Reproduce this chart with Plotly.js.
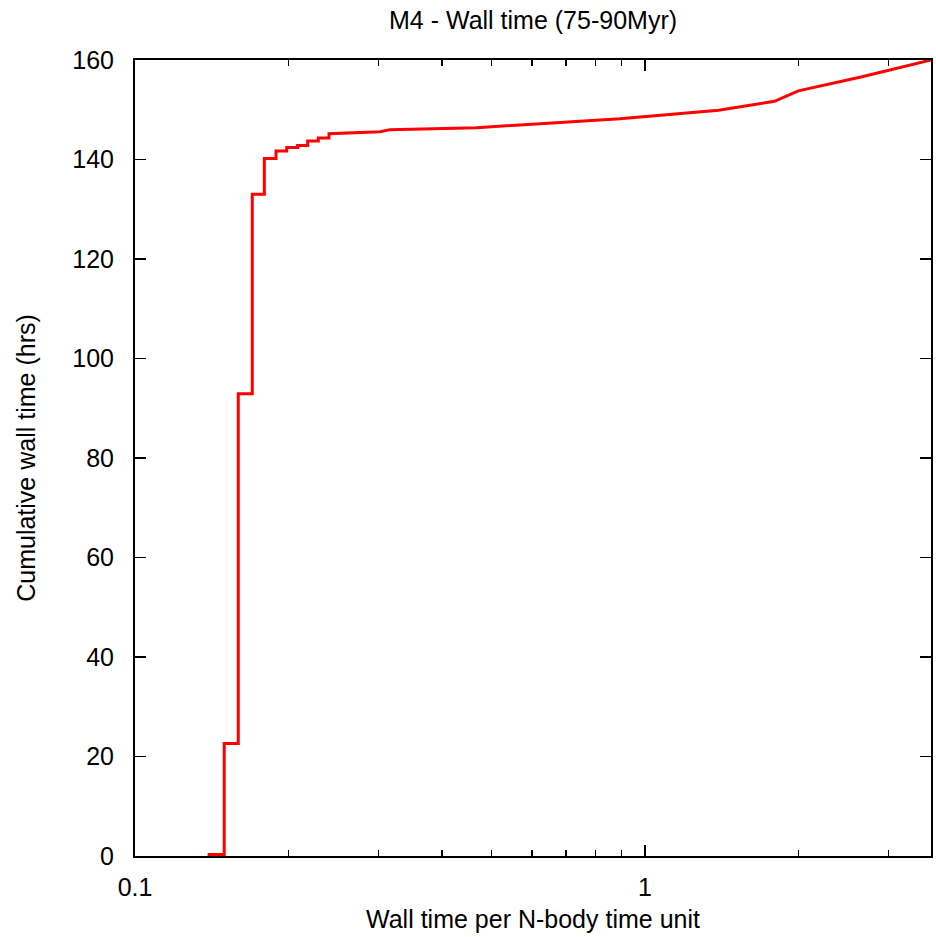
<!DOCTYPE html>
<html>
<head>
<meta charset="utf-8">
<script src="https://cdn.plot.ly/plotly-3.0.1.min.js"></script>
<style>html,body{margin:0;padding:0;background:#fff;}#chart{width:936px;height:937px;}</style>
</head>
<body>
<div id="chart"></div>
<script>
// Wall time per N-body time unit (x) and cumulative wall time in hours (y)
const wallPerUnit = [0.1388, 0.1496, 0.1496, 0.1594, 0.1594, 0.1698, 0.1698, 0.1793, 0.1793, 0.1890, 0.1890, 0.1984, 0.1984, 0.2084, 0.2084, 0.2181, 0.2181, 0.2288, 0.2288, 0.2401, 0.2401, 0.3023, 0.3162, 0.4677, 0.893, 1.394, 1.795, 1.998, 2.652, 3.638];
const cumulativeHrs = [0.3, 0.3, 22.6, 22.6, 92.9, 92.9, 133.0, 133.0, 140.2, 140.2, 141.7, 141.7, 142.4, 142.4, 142.8, 142.8, 143.7, 143.7, 144.3, 144.3, 145.2, 145.6, 146.0, 146.4, 148.2, 149.9, 151.7, 153.8, 156.6, 160.0];
const xMajorTicks = [0.1, 1];
const xMajorLabels = ['0.1', '1'];
const xMinorTicks = [0.2, 0.3, 0.4, 0.5, 0.6, 0.7, 0.8, 0.9, 2, 3];
const yTicks = [0, 20, 40, 60, 80, 100, 120, 140, 160];

const font = {family: 'Liberation Sans, Arial, sans-serif', size: 25, color: '#000'};

Plotly.newPlot('chart', [{
  x: wallPerUnit,
  y: cumulativeHrs,
  type: 'scatter',
  mode: 'lines',
  line: {color: '#ff0000', width: 3},
  hoverinfo: 'skip'
}], {
  width: 936, height: 937,
  margin: {l: 135, r: 5, t: 60, b: 81},
  paper_bgcolor: '#fff', plot_bgcolor: '#fff',
  showlegend: false,
  font: font,
  title: {text: 'M4 - Wall time (75-90Myr)', font: {family: font.family, size: 25, color: '#000'}, x: 0.5695, xanchor: 'center', y: 0.978, yanchor: 'middle'},
  xaxis: {
    type: 'log',
    range: [Math.log10(0.1), Math.log10(3.638)],
    tickmode: 'array', tickvals: xMajorTicks, ticktext: xMajorLabels,
    ticks: 'inside', ticklen: 11, tickwidth: 1.5, tickcolor: '#000',
    minor: {tickmode: 'array', tickvals: xMinorTicks, ticks: 'inside', ticklen: 6, tickwidth: 1.5, tickcolor: '#000'},
    showline: true, linecolor: '#000', linewidth: 2, mirror: 'ticks',
    showgrid: false, zeroline: false,
    ticklabelstandoff: 8,
    tickfont: font,
    title: {text: 'Wall time per N-body time unit', font: font, standoff: 10}
  },
  yaxis: {
    range: [0, 160],
    tickmode: 'array', tickvals: yTicks,
    ticks: 'inside', ticklen: 11, tickwidth: 1.5, tickcolor: '#000',
    showline: true, linecolor: '#000', linewidth: 2, mirror: 'ticks',
    showgrid: false, zeroline: false,
    ticklabelstandoff: 14,
    tickfont: font,
    title: {text: 'Cumulative wall time (hrs)', font: font, standoff: 30}
  }
}, {displayModeBar: false, staticPlot: true});
</script>
</body>
</html>
